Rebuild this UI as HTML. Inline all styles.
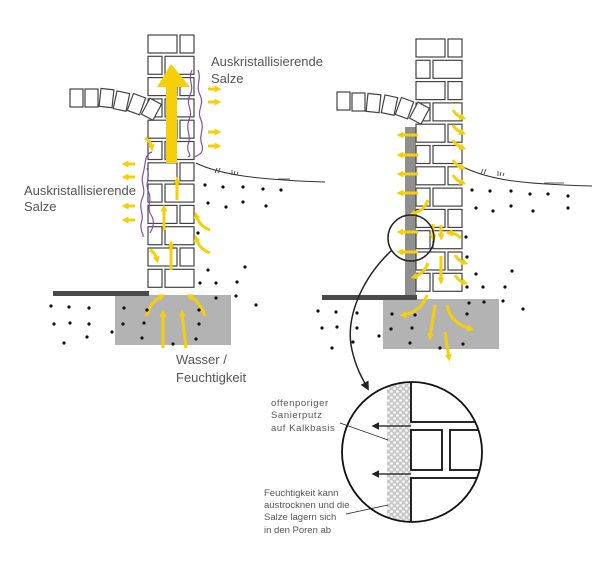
<!DOCTYPE html>
<html><head><meta charset="utf-8"><style>
html,body{margin:0;padding:0;background:#fff;}
svg{display:block;}
text{font-family:"Liberation Sans",sans-serif;}
</style></head><body>
<svg id="s" width="600" height="575" viewBox="0 0 600 575" xmlns="http://www.w3.org/2000/svg">
<defs>
<marker id="ya" viewBox="0 0 10 10" refX="5" refY="5" markerWidth="2.3" markerHeight="2.3" orient="auto"><path d="M0,0 L10,5 L0,10 z" fill="#f5d00a"/></marker>
<marker id="ka" viewBox="0 0 10 10" refX="8" refY="5" markerWidth="6" markerHeight="6" orient="auto"><path d="M0,0 L10,5 L0,10 z" fill="#222"/></marker>
<pattern id="chk" width="6" height="6" patternUnits="userSpaceOnUse"><rect width="6" height="6" fill="#c8c8c8"/><circle cx="1.5" cy="1.5" r="1.3" fill="#fff"/><circle cx="4.5" cy="4.5" r="1.3" fill="#fff"/></pattern>
<clipPath id="cc"><circle cx="412" cy="452" r="70"/></clipPath>
</defs>

<rect x="115" y="295" width="116" height="50" fill="#b3b3b3"/>
<rect x="383" y="299" width="116" height="50" fill="#b3b3b3"/>
<rect x="53" y="291" width="96" height="5" fill="#4a4a4a"/>
<rect x="322" y="295" width="95" height="5" fill="#4a4a4a"/>
<rect x="405" y="127" width="11" height="168" fill="#8f8f8f"/>

<g id="bricks" fill="#fff" stroke="#444" stroke-width="1.2"></g>

<g fill="#fff" stroke="#444" stroke-width="1.2">
<rect x="70" y="89" width="13" height="18"/><rect x="85" y="89" width="13" height="18"/><rect x="100" y="89" width="13" height="18" transform="rotate(6 106 98)"/><rect x="115" y="92" width="13" height="18" transform="rotate(12 121 101)"/><rect x="130" y="95" width="13" height="18" transform="rotate(20 136 104)"/><rect x="145" y="100" width="13" height="18" transform="rotate(28 151 109)"/>
<rect x="337" y="92" width="13" height="18"/><rect x="352" y="93" width="13" height="18"/><rect x="367" y="94" width="13" height="18" transform="rotate(6 373 103)"/><rect x="383" y="96" width="13" height="18" transform="rotate(12 389 105)"/><rect x="398" y="99" width="13" height="18" transform="rotate(20 404 108)"/><rect x="413" y="104" width="13" height="18" transform="rotate(28 419 113)"/>
</g>

<path d="M196,163 C220,175 260,180 325,182" fill="none" stroke="#333" stroke-width="1"/>
<path d="M463,167 C490,180 520,184 592,186" fill="none" stroke="#333" stroke-width="1"/>
<g stroke="#333" stroke-width="0.8" fill="none">
<path d="M215,173 l2,-5 m1,5 l2,-5 M232,175 l0,-5 m2,5 l1,-4 m2,4 l1,-3 M278,179 h12"/>
<path d="M481,174 l2,-5 m1,5 l2,-5 M498,176 l0,-5 m2,5 l1,-4 m2,4 l1,-3 M544,183 h20"/>
</g>

<path d="M166,163 L166,87 L157,87 L171,64 L190,87 L177,87 L177,163 z" fill="#f5d00a"/>

<g fill="none" stroke="#8a4f9e" stroke-width="1.2">
<path d="M192,70 c-5,10 3,15 -2,25 c-5,10 4,15 -1,25 c-4,10 3,15 -1,25 c-2,8 5,10 0,12"/>
<path d="M198,70 c4,10 -3,15 2,25 c5,10 -4,15 1,25 c4,10 -3,15 1,25 c2,8 -3,10 -8,12"/>
<path d="M152,152 c-8,2 -6,12 -9,22 c-3,10 4,15 -1,25 c-4,10 3,15 -1,25 c-1,8 3,10 2,13"/>
<path d="M147,168 c4,10 -3,15 2,25 c3,8 -2,12 1,20 c3,5 6,10 0,20"/>
</g>

<g stroke="#f5d00a" stroke-width="3" fill="none" marker-end="url(#ya)">
<path d="M208,89 h10"/><path d="M208,102 h10"/><path d="M208,132 h10"/><path d="M208,146 h10"/>
<path d="M135,164 h-10"/><path d="M135,177 h-10"/><path d="M135,206 h-10"/><path d="M135,220 h-10"/>
<path d="M177,200 v-20"/><path d="M164,230 v-22"/><path d="M171,270 v-26"/>
<path d="M145,138 c4,2 6,6 7,10"/><path d="M150,250 c4,2 6,6 7,10"/>
<path d="M210,230 c-8,-3 -12,-8 -14,-15"/><path d="M210,253 c-8,-3 -12,-8 -14,-15"/>
<path d="M146,316 c4,-10 8,-16 16,-20"/><path d="M205,316 c-4,-10 -8,-16 -16,-20"/>
<path d="M163,348 v-35"/><path d="M186,348 l-4,-35"/>
</g>

<g stroke="#f5d00a" stroke-width="3" fill="none" marker-end="url(#ya)">
<path d="M418,135 h-18"/><path d="M418,155 h-18"/><path d="M418,174 h-18"/><path d="M418,193 h-18"/><path d="M418,232 h-18"/><path d="M418,252 h-18"/>
<path d="M453,110 c2,4 5,6 10,8"/><path d="M453,125 c2,4 5,6 10,8"/><path d="M453,140 c2,4 5,6 10,8"/><path d="M453,160 c2,4 5,6 10,8"/><path d="M453,175 c2,4 5,6 10,8"/>
<path d="M428,200 c-3,8 -8,12 -16,14"/><path d="M428,263 c-3,8 -8,12 -14,14"/>
<path d="M433,224 v14"/><path d="M441,225 v12"/><path d="M461,238 c-4,-4 -8,-5 -12,-5"/>
<path d="M455,255 c2,4 5,6 10,8"/><path d="M455,275 c2,4 5,6 10,8"/><path d="M441,256 v25"/>
<path d="M427,295 c-4,12 -12,18 -24,20"/><path d="M435,305 l-5,32"/><path d="M447,305 c2,12 10,20 24,24"/><path d="M445,332 l4,26"/>
</g>

<g id="dots" fill="#111"></g>

<circle cx="411" cy="238" r="23" fill="none" stroke="#222" stroke-width="1.5"/>
<path d="M392,250 C360,280 345,320 352,350 C356,368 362,378 368,389" fill="none" stroke="#222" stroke-width="1.5" marker-end="url(#ka)"/>

<g clip-path="url(#cc)">
<rect x="387" y="380" width="24" height="145" fill="url(#chk)"/>
<g fill="#fff" stroke="#111" stroke-width="1.8">
<rect x="411" y="375" width="80" height="47"/>
<rect x="411" y="430" width="31" height="40"/>
<rect x="450" y="430" width="40" height="40"/>
<rect x="411" y="478" width="80" height="50"/>
</g>
</g>
<circle cx="412" cy="452" r="70" fill="none" stroke="#111" stroke-width="1.8"/>
<g stroke="#111" stroke-width="1.3" marker-end="url(#ka)"><path d="M411,426 h-38"/><path d="M411,474 h-38"/></g>
<path d="M340,423 L388,440" stroke="#222" stroke-width="0.8"/>
<path d="M346,514 L388,505" stroke="#222" stroke-width="0.8"/>

<g fill="#555" font-size="13">
<text x="211" y="66">Auskristallisierende</text><text x="211" y="83">Salze</text>
<text x="24" y="195">Auskristallisierende</text><text x="24" y="211">Salze</text>
<text x="176" y="364">Wasser /</text><text x="176" y="382">Feuchtigkeit</text>
</g>
<g fill="#555" font-size="9.5">
<text x="271" y="406" letter-spacing="0.6">offenporiger</text>
<text x="271" y="418" letter-spacing="0.6">Sanierputz</text>
<text x="271" y="431" letter-spacing="0.6">auf Kalkbasis</text>
<text x="264" y="496">Feuchtigkeit kann</text>
<text x="264" y="508">austrocknen und die</text>
<text x="264" y="520">Salze lagern sich</text>
<text x="264" y="533">in den Poren ab</text>
</g>
</svg>
<script>
(function(){
var ns="http://www.w3.org/2000/svg";
var b=document.getElementById("bricks");
function r(x,y,w,h){var e=document.createElementNS(ns,"rect");e.setAttribute("x",x);e.setAttribute("y",y);e.setAttribute("width",w);e.setAttribute("height",h);b.appendChild(e);}
for(var i=0;i<12;i++){
 var y=35+i*21.3;
 if(i%2==0){r(148,y,29,18);r(180,y,14,18);}else{r(148,y,14,18);r(165,y,29,18);}
 var y2=39+i*21.3;
 if(i%2==0){r(416,y2,29,18);r(448,y2,14,18);}else{r(416,y2,14,18);r(433,y2,29,18);}
}
var d=[[205,185],[223,187],[243,187],[263,189],[281,190],[208,203],[226,207],[243,202],[266,206],[198,233],[208,270],[245,267],[200,283],[216,283],[237,282],[236,296],[216,298],[256,305],[51,306],[69,307],[89,308],[54,324],[70,323],[89,324],[112,332],[64,343],[87,337],[124,308],[147,310],[123,324],[144,323],[199,310],[199,324],[142,338],[173,344],[196,339],
[472,190],[490,191],[511,191],[530,194],[548,194],[568,196],[476,208],[493,211],[511,206],[533,211],[568,208],[466,237],[467,257],[476,274],[467,287],[483,287],[505,287],[512,271],[469,303],[484,302],[503,301],[523,309],[318,311],[336,312],[357,313],[322,328],[337,327],[357,328],[332,348],[379,336],[353,342],[392,314],[415,315],[391,329],[412,328],[410,343],[440,348],[467,314],[463,344]];
var g=document.getElementById("dots");
d.forEach(function(p){var c=document.createElementNS(ns,"circle");c.setAttribute("cx",p[0]);c.setAttribute("cy",p[1]);c.setAttribute("r",1.6);g.appendChild(c);});
})();
</script>
</body></html>
